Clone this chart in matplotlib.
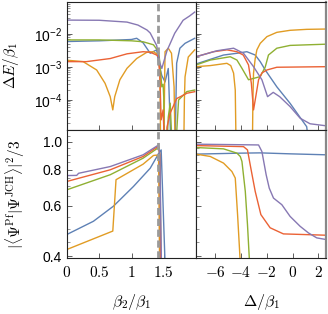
import numpy as np
import matplotlib
matplotlib.use("Agg")
import matplotlib.pyplot as plt
from matplotlib.ticker import FixedLocator, FixedFormatter, LogLocator, NullFormatter

plt.rcParams['font.family'] = ['Liberation Sans', 'DejaVu Sans']
plt.rcParams['mathtext.fontset'] = 'cm'

C = {'blue': '#5E81B5', 'orange': '#E19C24', 'green': '#8FB032',
     'red': '#EB6235', 'purple': '#8778B3'}
BOT = 1e-7  # below axis floor

# ---------------- top-left: Delta E / beta1 vs beta2/beta1 ----------------
tl_purple_x = [0.0, 0.5, 0.93, 1.1, 1.24, 1.29, 1.39, 1.44, 1.47, 1.55, 1.67, 1.8, 1.9, 1.98]
tl_purple_y = [0.0263, 0.026, 0.0229, 0.0186, 0.0132, 0.0107, 0.0045, 0.0013, 0.0009, 0.0031, 0.0105, 0.026, 0.035, 0.046]
tl_blue_x = [0.0, 0.5, 1.0, 1.08, 1.18, 1.29, 1.39, 1.42, 1.47, 1.52, 1.57, 1.64, 1.66, 1.70, 1.75, 1.83, 1.98]
tl_blue_y = [0.0059, 0.0062, 0.0068, 0.0074, 0.0054, 0.0026, 0.0033, 0.0013, 0.00055, 0.00035, 0.0009, BOT, BOT, 0.0013, 0.0037, 0.0052, 0.0074]
tl_green_x = [0.0, 0.5, 1.0, 1.18, 1.34, 1.42, 1.44, 1.47, 1.49, 1.50, 1.51, 1.57, 1.60, 1.62, 1.64, 1.73, 1.86, 1.98]
tl_green_y = [0.0066, 0.0066, 0.0062, 0.0058, 0.0047, 0.0029, 0.0013, 0.00025, 0.0003, 0.00012, BOT, 3e-5, 8e-5, 1e-5, BOT, 1e-4, 0.00018, 0.0002]
tl_red_x = [0.0, 0.3, 0.67, 0.93, 1.18, 1.29, 1.39, 1.42, 1.44, 1.46, 1.49, 1.50, 1.51, 1.55, 1.60, 1.70, 1.86, 1.98]
tl_red_y = [0.00145, 0.00145, 0.0018, 0.0025, 0.0029, 0.0028, 0.0023, 0.002, 0.0005, 2.5e-5, 5e-5, 1.5e-5, BOT, 1.5e-5, 4e-5, 0.00011, 0.00016, 0.000178]
tl_orange_x = [0.0, 0.25, 0.46, 0.59, 0.67, 0.71, 0.74, 0.82, 0.93, 1.08, 1.24, 1.34, 1.42, 1.44, 1.46, 1.49, 1.52, 1.57, 1.62, 1.66, 1.69, 1.70, 1.80, 1.82, 1.83, 1.88, 1.98]
tl_orange_y = [0.0016, 0.00145, 0.00081, 0.00032, 0.000126, 5e-5, 0.000126, 0.00041, 0.00091, 0.0018, 0.0028, 0.0029, 0.0023, 0.00065, BOT, BOT, 0.0029, 0.0037, 0.0026, 0.00025, BOT, BOT, BOT, 0.0001, 0.0005, 0.002, 0.0033]

# ---------------- top-right: Delta E / beta1 vs Delta/beta1 ----------------
tr_orange_x = [-7.5, -6.4, -5.1, -4.8, -4.58, -4.45, -4.33, -3.16, -3.08, -3.03, -2.9, -2.77, -2.51, -1.99, -1.22, -0.19, 1.1, 2.6]
tr_orange_y = [0.00102, 0.0011, 0.00129, 0.0011, 0.00065, 0.0002, BOT, BOT, 0.0001, 0.00065, 0.0018, 0.0033, 0.0052, 0.0083, 0.0112, 0.0129, 0.0138, 0.0141]
tr_green_x = [-7.5, -6.39, -4.84, -4.32, -3.93, -3.42, -2.51, -2.12, -1.87, -1.22, -0.19, 2.6]
tr_green_y = [0.00115, 0.00162, 0.00204, 0.00162, 0.00091, 0.00041, 0.00051, 0.001, 0.0023, 0.0037, 0.0045, 0.0049]
tr_red_x = [-7.5, -6.13, -5.1, -4.32, -3.83, -3.42, -3.2, -3.03, -2.85, -2.64, -2.38, -1.99, -1.22, 2.6]
tr_red_y = [0.00204, 0.0029, 0.0033, 0.0029, 0.0023, 0.00115, 0.00032, 0.00005, 0.00013, 0.00041, 0.00066, 0.00081, 0.00098, 0.00102]
tr_blue_x = [-7.5, -5.36, -4.32, -3.55, -2.9, -2.51, -2.12, -1.22, -0.19, 1.1, 1.25]
tr_blue_y = [0.00123, 0.0023, 0.0026, 0.0029, 0.0023, 0.00145, 0.00081, 0.00025, 7.9e-5, 1.55e-5, 5e-6]
tr_purple_x = [-7.5, -5.87, -4.58, -3.81, -3.03, -2.38, -1.94, -1.5, -1.0, -0.19, 0.59, 1.36, 2.6]
tr_purple_y = [0.00204, 0.0031, 0.0037, 0.0026, 0.00102, 0.00041, 0.000126, 0.00017, 0.000126, 6.3e-5, 2.8e-5, 1.9e-5, 1.65e-5]

# ---------------- bottom-left: overlap vs beta2/beta1 ----------------
bl_purple_x = [0.0, 0.15, 0.18, 0.67, 1.18, 1.42, 1.44, 1.47]
bl_purple_y = [0.764, 0.765, 0.778, 0.821, 0.902, 0.976, 0.9, 0.3]
bl_red_x = [0.0, 0.67, 1.18, 1.42, 1.44, 1.455]
bl_red_y = [0.729, 0.8, 0.89, 0.968, 0.9, 0.3]
bl_green_x = [0.0, 0.67, 1.18, 1.42, 1.44, 1.46]
bl_green_y = [0.682, 0.769, 0.878, 0.956, 0.9, 0.3]
bl_orange_x = [0.0, 0.71, 0.76, 1.18, 1.34, 1.39, 1.42, 1.44]
bl_orange_y = [0.423, 0.49, 0.739, 0.837, 0.897, 0.9, 0.878, 0.3]
bl_blue_x = [0.0, 0.41, 0.72, 1.03, 1.29, 1.42, 1.46, 1.52]
bl_blue_y = [0.477, 0.53, 0.598, 0.70, 0.81, 0.91, 0.938, 0.38]

# ---------------- bottom-right: overlap vs Delta/beta1 ----------------
br_purple_x = [-7.5, -2.64, -2.38, -2.05, -1.81, -1.48, -0.83, -0.19, 0.59, 1.23, 1.88, 2.6]
br_purple_y = [0.982, 0.976, 0.926, 0.769, 0.691, 0.638, 0.605, 0.551, 0.509, 0.483, 0.464, 0.458]
br_red_x = [-7.5, -3.81, -3.5, -3.29, -2.9, -2.46, -1.74, -0.71, 2.6]
br_red_y = [0.971, 0.963, 0.938, 0.833, 0.673, 0.559, 0.503, 0.479, 0.474]
br_green_x = [-7.5, -5.36, -4.32, -4.06, -3.93, -3.67, -3.5, -3.34]
br_green_y = [0.956, 0.946, 0.914, 0.89, 0.855, 0.673, 0.516, 0.38]
br_orange_x = [-7.5, -6.39, -5.36, -4.71, -4.45, -4.27, -4.06]
br_orange_y = [0.907, 0.89, 0.844, 0.789, 0.749, 0.559, 0.38]
br_blue_x = [-7.5, -4.06, -2.51, -0.19, 2.6]
br_blue_y = [0.907, 0.914, 0.916, 0.909, 0.902]

left_ticks = [0, 0.5, 1, 1.5]
left_ticklabels = ['$0$', '$0.5$', '$1$', '$1.5$']
right_ticks = [-6, -4, -2, 0, 2]
right_ticklabels = ['$-6$', '$-4$', '$-2$', '$0$', '$2$']
top_yticks = [1e-4, 1e-3, 1e-2]
top_yticklabels = [r'$\mathdefault{10^{-4}}$', r'$\mathdefault{10^{-3}}$', r'$\mathdefault{10^{-2}}$']
bot_yticks = [0.4, 0.6, 0.8, 1.0]
bot_yticklabels = ['0.4', '0.6', '0.8', '1.0']

W, H = 328, 314
fig = plt.figure(figsize=(W / 100, H / 100), dpi=100)
def axpos(x0, y0, x1, y1):
    return [x0 / W, 1 - y1 / H, (x1 - x0) / W, (y1 - y0) / H]

ax_tl = fig.add_axes(axpos(67, 2, 196, 130))
ax_tr = fig.add_axes(axpos(196, 2, 326, 130))
ax_bl = fig.add_axes(axpos(67, 130, 196, 258))
ax_br = fig.add_axes(axpos(196, 130, 326, 258))

lw = 1.0
order = ['blue', 'orange', 'green', 'red', 'purple']
data = {
    ax_tl: {'blue': (tl_blue_x, tl_blue_y), 'orange': (tl_orange_x, tl_orange_y),
            'green': (tl_green_x, tl_green_y), 'red': (tl_red_x, tl_red_y),
            'purple': (tl_purple_x, tl_purple_y)},
    ax_tr: {'blue': (tr_blue_x, tr_blue_y), 'orange': (tr_orange_x, tr_orange_y),
            'green': (tr_green_x, tr_green_y), 'red': (tr_red_x, tr_red_y),
            'purple': (tr_purple_x, tr_purple_y)},
    ax_bl: {'blue': (bl_blue_x, bl_blue_y), 'orange': (bl_orange_x, bl_orange_y),
            'green': (bl_green_x, bl_green_y), 'red': (bl_red_x, bl_red_y),
            'purple': (bl_purple_x, bl_purple_y)},
    ax_br: {'blue': (br_blue_x, br_blue_y), 'orange': (br_orange_x, br_orange_y),
            'green': (br_green_x, br_green_y), 'red': (br_red_x, br_red_y),
            'purple': (br_purple_x, br_purple_y)},
}
for ax, d in data.items():
    for k in order:
        x, y = d[k]
        ax.plot(x, y, color=C[k], lw=lw, solid_joinstyle='round')

for ax in (ax_tl, ax_bl):
    ax.axvline(np.sqrt(2), color='#9a9a9a', lw=2.0, ls=(0, (2.6, 1.3)), zorder=5)

for ax in (ax_tl, ax_tr):
    ax.set_yscale('log')
    ax.set_ylim(1.23e-5, 0.093)
for ax in (ax_bl, ax_br):
    ax.set_yscale('log')
    ax.set_ylim(0.395, 1.10)
for ax in (ax_tl, ax_bl):
    ax.set_xlim(0, 2)
for ax in (ax_tr, ax_br):
    ax.set_xlim(-7.5, 2.6)

for ax in (ax_tl, ax_tr, ax_bl, ax_br):
    for s in ax.spines.values():
        s.set_linewidth(0.8)
        s.set_color('#222222')
    ax.tick_params(which='both', direction='in', top=False, right=False, color='#444444')
    ax.tick_params(which='major', length=3.5, width=0.6)
    ax.tick_params(which='minor', length=1.8, width=0.4)
ax_tr.spines['right'].set_color('#888888')
ax_br.spines['right'].set_color('#888888')
ax_tr.spines['right'].set_linewidth(1.6)
ax_br.spines['right'].set_linewidth(1.6)

for ax in (ax_tl, ax_bl):
    ax.xaxis.set_major_locator(FixedLocator(left_ticks))
    ax.xaxis.set_major_formatter(FixedFormatter(left_ticklabels))
for ax in (ax_tr, ax_br):
    ax.xaxis.set_major_locator(FixedLocator(right_ticks))
    ax.xaxis.set_major_formatter(FixedFormatter(right_ticklabels))
for ax in (ax_tl, ax_tr):
    ax.yaxis.set_major_locator(FixedLocator(top_yticks))
    ax.yaxis.set_major_formatter(FixedFormatter(top_yticklabels))
    ax.yaxis.set_minor_locator(LogLocator(base=10, subs=np.arange(2, 10)))
    ax.yaxis.set_minor_formatter(NullFormatter())
for ax in (ax_bl, ax_br):
    ax.yaxis.set_major_locator(FixedLocator(bot_yticks))
    ax.yaxis.set_major_formatter(FixedFormatter(bot_yticklabels))
    ax.yaxis.set_minor_locator(FixedLocator([0.45, 0.5, 0.55, 0.65, 0.7, 0.75, 0.85, 0.9, 0.95, 1.05]))
    ax.yaxis.set_minor_formatter(NullFormatter())

for ax in (ax_tl, ax_tr):
    ax.tick_params(axis='x', labelbottom=False)
for ax in (ax_tr, ax_br):
    ax.tick_params(axis='y', labelleft=False)
for ax in (ax_bl, ax_br):
    ax.tick_params(axis='x', labelsize=11, pad=5)
for ax in (ax_tl, ax_bl):
    ax.tick_params(axis='y', labelsize=10, pad=3.5)

ax_tl.set_ylabel(r'$\Delta E/\beta_1$', fontsize=11)
ax_tl.yaxis.set_label_coords(-0.36, 0.5)
ax_bl.set_ylabel(r'$|\langle\Psi^{\rm Pf}|\Psi^{\rm JCH}\rangle|^2/3$', fontsize=11)
ax_bl.yaxis.set_label_coords(-0.31, 0.5)
ax_bl.set_xlabel(r'$\beta_2/\beta_1$', fontsize=11.5, labelpad=9)
ax_br.set_xlabel(r'$\Delta/\beta_1$', fontsize=11.5, labelpad=9)

fig.savefig('out.png', dpi=100)
